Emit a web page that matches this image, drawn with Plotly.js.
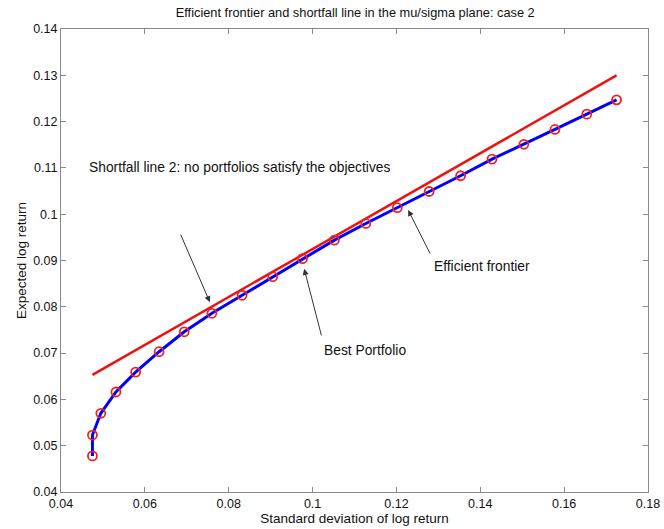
<!DOCTYPE html>
<html>
<head>
<meta charset="utf-8">
<script src="https://cdn.plot.ly/plotly-3.0.1.min.js"></script>
<style>html,body{margin:0;padding:0;background:#fff;}#chart{width:664px;height:529px;}</style>
</head>
<body>
<div id="chart"></div>
<script>
// Efficient frontier (std dev of log return, expected log return)
var frontierSigma = [0.0475, 0.0475, 0.0495, 0.0531, 0.0578, 0.0634, 0.0694, 0.0760, 0.0832, 0.0905, 0.0976,
                     0.1052, 0.1127, 0.1202, 0.1278, 0.1353, 0.1428, 0.1504, 0.1578, 0.1654, 0.1725];
var frontierMu    = [0.0478, 0.0523, 0.0570, 0.0616, 0.0659, 0.0703, 0.0746, 0.0786, 0.0825, 0.0865, 0.0904,
                     0.0944, 0.0980, 0.1014, 0.1049, 0.1083, 0.1119, 0.1151, 0.1183, 0.1216, 0.1247];
// Shortfall line endpoints
var shortfallSigma = [0.0475, 0.1725];
var shortfallMu    = [0.0653, 0.1300];
var xTicks = [0.04, 0.06, 0.08, 0.1, 0.12, 0.14, 0.16, 0.18];
var yTicks = [0.04, 0.05, 0.06, 0.07, 0.08, 0.09, 0.1, 0.11, 0.12, 0.13, 0.14];

var font = 'Liberation Sans, Arial, sans-serif';
var traces = [
  {x: frontierSigma, y: frontierMu, type: 'scatter', mode: 'lines',
   line: {color: '#0000ff', width: 3}, hoverinfo: 'skip'},
  {x: shortfallSigma, y: shortfallMu, type: 'scatter', mode: 'lines',
   line: {color: '#ee1111', width: 2.5}, hoverinfo: 'skip'},
  {x: frontierSigma, y: frontierMu, type: 'scatter', mode: 'markers',
   marker: {symbol: 'circle-open', size: 9, color: '#ee2222', line: {width: 1.8, color: '#ee2222'}}}
];

function arrow(x, y, ax, ay) {
  return {x: x, y: y, ax: ax, ay: ay, xref: 'x', yref: 'y', axref: 'x', ayref: 'y',
          text: '', showarrow: true, arrowhead: 2, arrowsize: 1.2, arrowwidth: 1, arrowcolor: '#333333'};
}
function label(x, y, t) {
  return {x: x, y: y, xref: 'x', yref: 'y', text: t, showarrow: false, xanchor: 'left', yanchor: 'middle',
          font: {family: font, size: 13.8, color: '#111111'}};
}

var axisCommon = {
  showgrid: false, zeroline: false, showline: true, mirror: 'ticks', linecolor: '#8a8a8a', linewidth: 1,
  ticks: 'inside', ticklen: 5, tickcolor: '#8a8a8a', tickfont: {family: font, size: 12.5, color: '#111111'}
};

var layout = {
  width: 664, height: 529,
  margin: {l: 61, r: 16, t: 29, b: 37},
  paper_bgcolor: '#ffffff', plot_bgcolor: '#ffffff',
  showlegend: false,
  title: {text: 'Efficient frontier and shortfall line in the mu/sigma plane: case 2',
          font: {family: font, size: 12.8, color: '#111111'}, x: 0.535, xanchor: 'center', y: 0.977, yanchor: 'middle'},
  xaxis: Object.assign({}, axisCommon, {range: [0.04, 0.18], tickvals: xTicks, ticktext: xTicks.map(String),
          title: {text: 'Standard deviation of log return', font: {family: font, size: 13.5, color: '#111111'}, standoff: 0}}),
  yaxis: Object.assign({}, axisCommon, {range: [0.04, 0.14], tickvals: yTicks, ticktext: yTicks.map(String),
          title: {text: 'Expected log return', font: {family: font, size: 13.5, color: '#111111'}, standoff: 3}}),
  annotations: [
    arrow(0.0755, 0.0810, 0.0684, 0.0959),
    arrow(0.0980, 0.0882, 0.1022, 0.0735),
    arrow(0.1228, 0.1009, 0.1282, 0.0912),
    label(0.0461, 0.1100, 'Shortfall line 2: no portfolios satisfy the objectives'),
    label(0.1022, 0.0705, 'Best Portfolio'),
    label(0.1285, 0.0888, 'Efficient frontier')
  ]
};

Plotly.newPlot('chart', traces, layout, {displayModeBar: false, staticPlot: true});
</script>
</body>
</html>
